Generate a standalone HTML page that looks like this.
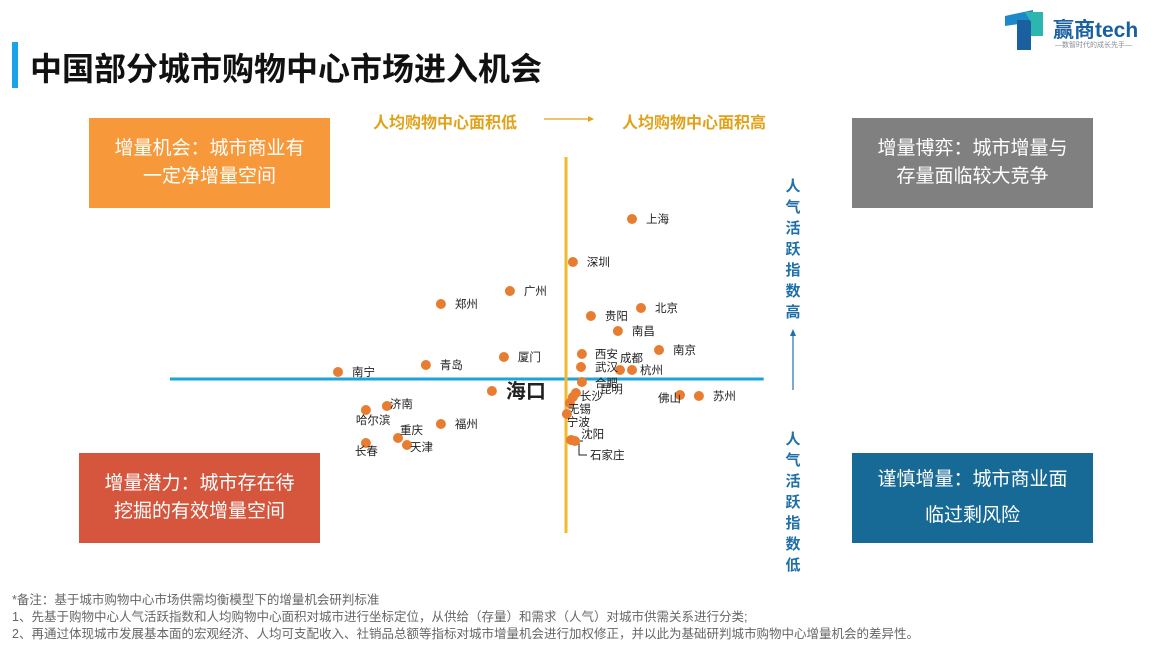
<!DOCTYPE html>
<html><head><meta charset="utf-8">
<style>
body{margin:0;width:1164px;height:657px;background:#fff;position:relative;overflow:hidden;font-family:"Liberation Sans","Noto Sans CJK SC",sans-serif;}
.abs{position:absolute}
.box{position:absolute;color:#fff;font-size:19px;line-height:28px;text-align:center;display:flex;align-items:center;justify-content:center}
.note{position:absolute;left:12px;font-size:12.5px;color:#666;white-space:nowrap}
.vt{position:absolute;width:20px;font-size:15px;font-weight:bold;color:#1f6fa8;line-height:21px;text-align:center}
</style></head><body>
<div class="abs" style="left:12px;top:42px;width:6px;height:46px;background:#1aa3e8"></div>
<div class="abs" style="left:30px;top:44px;font-size:32px;font-weight:bold;color:#111;white-space:nowrap">中国部分城市购物中心市场进入机会</div>
<div class="abs" style="left:1003px;top:6px;width:160px;height:46px">
<svg width="50" height="46"><polygon points="2,10 30,4 30,16 2,20" fill="#1e88c8"/><rect x="14" y="14" width="14" height="30" fill="#1a5fa0"/><polygon points="22,6 40,6 40,30 28,30 28,16" fill="#2bb7b0"/></svg>
<div class="abs" style="left:50px;top:8px;font-size:21px;color:#1a5fa0;font-weight:bold;white-space:nowrap">赢商tech</div>
<div class="abs" style="left:52px;top:34px;font-size:7px;color:#889;white-space:nowrap">—数智时代的成长先手—</div>
</div>
<div class="box" style="left:89px;top:118px;width:241px;height:90px;background:#f7993a">增量机会：城市商业有<br>一定净增量空间</div>
<div class="box" style="left:852px;top:118px;width:241px;height:90px;background:#808080">增量博弈：城市增量与<br>存量面临较大竞争</div>
<div class="box" style="left:79px;top:453px;width:241px;height:90px;background:#d5553d">增量潜力：城市存在待<br>挖掘的有效增量空间</div>
<div class="box" style="left:852px;top:453px;width:241px;height:90px;background:#176a95;line-height:36px">谨慎增量：城市商业面<br>临过剩风险</div>
<div class="abs" style="left:373px;top:109px;font-size:16px;font-weight:bold;color:#e0a21b;white-space:nowrap">人均购物中心面积低</div>
<div class="abs" style="left:622px;top:109px;font-size:16px;font-weight:bold;color:#e0a21b;white-space:nowrap">人均购物中心面积高</div>
<svg class="abs" style="left:0;top:0" width="1164" height="657">
<line x1="544" y1="119" x2="590" y2="119" stroke="#e0a21b" stroke-width="1.2"/><polygon points="594,119 588,116 588,122" fill="#e0a21b"/>
<line x1="793" y1="390" x2="793" y2="334" stroke="#1f6fa8" stroke-width="1.2"/><polygon points="793,329 790,336 796,336" fill="#1f6fa8"/>
<g id="plot"></g>
</svg>
<div class="vt" style="left:783px;top:176px">人<br>气<br>活<br>跃<br>指<br>数<br>高</div>
<div class="vt" style="left:783px;top:429px">人<br>气<br>活<br>跃<br>指<br>数<br>低</div>
<div class="note" style="top:589px">*备注：基于城市购物中心市场供需均衡模型下的增量机会研判标准</div>
<div class="note" style="top:606px">1、先基于购物中心人气活跃指数和人均购物中心面积对城市进行坐标定位，从供给（存量）和需求（人气）对城市供需关系进行分类;</div>
<div class="note" style="top:623px">2、再通过体现城市发展基本面的宏观经济、人均可支配收入、社销品总额等指标对城市增量机会进行加权修正，并以此为基础研判城市购物中心增量机会的差异性。</div>
<script>
const cities=["上海","深圳","广州","郑州","北京","贵阳","南昌","南京","西安","厦门","成都","杭州","武汉","青岛","南宁","合肥","海口","佛山","苏州","长沙","昆明","无锡","宁波","济南","哈尔滨","福州","重庆","天津","长春","沈阳","石家庄"];
const areaIdx=[22,2.3,-18.7,-41.7,25,8.3,17.3,31,5.3,-20.7,18,22,5,-46.7,-76,5.3,-24.7,38,44.3,3.3,2.3,1.3,0.3,-59.7,-66.7,-41.7,-56,-53,-66.7,1.7,3];
const popIdx=[80,58.5,44,37.5,35.5,31.5,24,14.5,12.5,11,4.5,4.5,6,7,3.5,-1.5,-6,-8,-8.5,-7,-9,-12,-17.5,-13.5,-15.5,-22.5,-29.5,-33,-32,-30.5,-31];
const xTicks=[-132,65.9];const yTicks=[111,-77];
const sx=v=>566+v*3, sy=v=>379-v*2;
const lab={"西安":[13,0],"成都":[0,-12],"杭州":[8,0],"合肥":[13,1],"昆明":[27,-8],"长沙":[4,3],"无锡":[-2,6],"宁波":[0,8],"佛山":[-22,3],"济南":[3,-2],"哈尔滨":[-10,10],"重庆":[2,-8],"天津":[3,2],"长春":[-11,8],"沈阳":[10,-6],"石家庄":[15,14],"福州":[14,0]};
const g=document.getElementById('plot');const NS='http://www.w3.org/2000/svg';
function mk(t,a){const e=document.createElementNS(NS,t);for(const k in a)e.setAttribute(k,a[k]);g.appendChild(e);return e;}
const ha=mk('line',{x1:sx(xTicks[0]),x2:sx(xTicks[1]),y1:sy(0),y2:sy(0),stroke:'#1aa3dc','stroke-width':3});


const va=mk('line',{x1:sx(0),x2:sx(0),y1:sy(yTicks[0]),y2:sy(yTicks[1]),stroke:'#f2b92a','stroke-width':3});


const sz=cities.indexOf("石家庄");
mk('polyline',{points:`${sx(areaIdx[sz])-4},${sy(popIdx[sz])} ${sx(areaIdx[sz])+8},${sy(popIdx[sz])}`,stroke:'#222',fill:'none'});
mk('polyline',{points:`${sx(areaIdx[sz])+4},${sy(popIdx[sz])} ${sx(areaIdx[sz])+4},${sy(popIdx[sz])+14} ${sx(areaIdx[sz])+12},${sy(popIdx[sz])+14}`,stroke:'#222',fill:'none'});
cities.forEach((c,i)=>{
  const x=sx(areaIdx[i]),y=sy(popIdx[i]);
  const d=mk('circle',{cx:x,cy:y,r:5,fill:'#e87d31'});
  
  
  const o=lab[c]||[14,0];
  const big=c==="海口";
  const t=mk('text',{x:x+o[0],y:y+o[1]+(big?7:4),'font-size':big?20:11.5,'font-weight':big?'bold':'normal',fill:'#222','font-family':'"Liberation Sans","Noto Sans CJK SC",sans-serif'});
  t.textContent=c;
  
  
});
</script>
</body></html>
